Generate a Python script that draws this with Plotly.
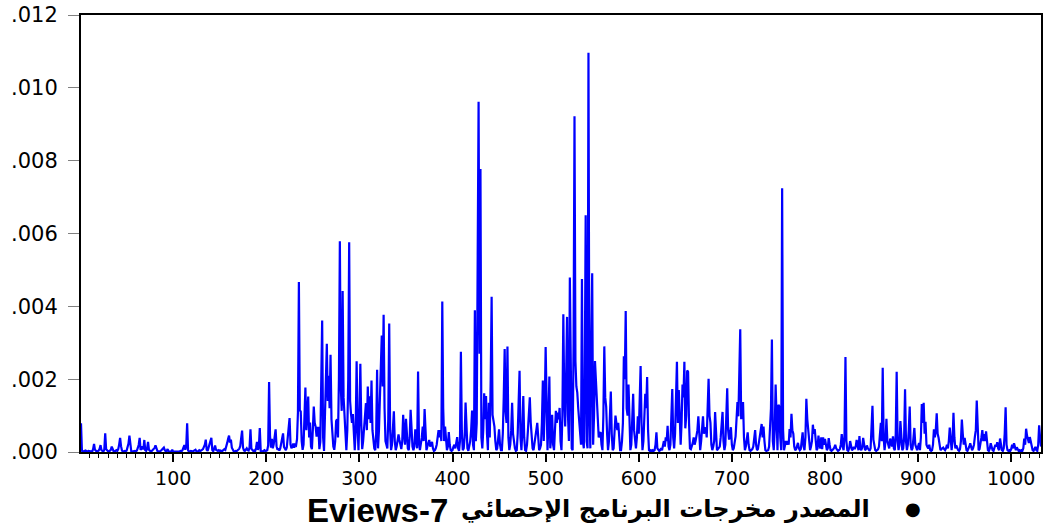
import plotly.graph_objects as go

# Series values, in units of 1e-4 (observation 1 .. 1032)
series_e4 = [
    7.9, 0.3, 0.1, 0.2, 0.5, 0.4, 0.2, 0.1, 0.3, 0.2,
    0.1, 0.2, 0.1, 0.8, 2.2, 0.6, 0.3, 0.1, 0.2, 0.4,
    0.9, 1.9, 0.5, 0.2, 0.1, 0.6, 5.1, 0.8, 0.3, 0.2,
    0.1, 0.3, 0.6, 1.5, 0.4, 0.2, 0.1, 0.2, 0.5, 0.3,
    0.8, 2.1, 3.9, 1.6, 0.4, 0.2, 0.1, 0.3, 0.2, 0.4,
    1.2, 2.3, 4.5, 0.9, 0.2, 0.1, 0.2, 0.1, 0.3, 0.2,
    0.4, 1.1, 2.0, 3.9, 0.6, 0.9, 1.5, 0.7, 3.3, 0.5,
    0.3, 1.0, 2.8, 0.6, 0.2, 0.1, 0.3, 0.5, 0.9, 1.1,
    1.8, 0.7, 0.3, 0.2, 0.1, 0.2, 0.4, 0.6, 0.8, 1.2,
    0.5, 0.2, 0.3, 0.8, 0.2, 0.1, 0.1, 0.2, 0.6, 0.1,
    0.1, 0.05, 0.1, 0.05, 0.1, 0.1, 0.2, 0.3, 0.2, 0.5,
    1.1, 1.9, 0.6, 1.5, 7.9, 0.4, 0.2, 0.1, 0.3, 0.2,
    0.1, 0.3, 0.5, 0.6, 0.2, 0.1, 0.2, 0.5, 0.3, 0.4,
    0.6, 0.8, 1.4, 2.0, 3.4, 0.6, 0.3, 1.2, 2.4, 3.0,
    3.9, 0.5, 0.2, 0.9, 1.8, 0.6, 0.4, 0.3, 0.5, 0.3,
    0.4, 0.2, 0.3, 0.5, 0.8, 0.6, 1.3, 2.5, 3.6, 4.5,
    2.6, 3.4, 1.2, 0.4, 0.2, 0.1, 0.3, 0.2, 0.5, 0.9,
    0.9, 1.6, 3.2, 5.9, 1.2, 0.4, 0.3, 0.8, 1.0, 0.5,
    0.4, 1.2, 6.2, 0.9, 0.5, 0.3, 0.4, 0.2, 1.1, 2.8,
    0.6, 1.4, 6.6, 0.3, 0.2, 0.1, 0.3, 0.5, 0.2, 0.4,
    0.5, 1.8, 19.2, 4.5, 1.2, 3.6, 1.0, 2.2, 4.4, 6.2,
    1.6, 0.6, 1.0, 0.4, 1.0, 2.6, 3.5, 5.1, 1.4, 0.8,
    0.5, 1.2, 4.5, 7.8, 9.3, 2.1, 1.0, 1.5, 2.3, 1.2,
    2.0, 1.8, 3.5, 11.0, 46.7, 11.5, 11.1, 3.0, 0.6, 2.0,
    8.5, 17.7, 6.0, 9.4, 15.2, 4.0, 8.1, 1.5, 0.8, 6.2,
    12.5, 8.0, 6.9, 4.2, 6.6, 6.6, 0.8, 2.8, 18.0, 36.1,
    4.0, 0.3, 10.0, 18.0, 29.7, 14.0, 20.9, 12.0, 26.7, 9.0,
    5.1, 1.5, 0.6, 3.0, 8.5, 9.0, 4.0, 20.0, 57.9, 18.0,
    11.3, 44.2, 15.0, 10.7, 4.0, 0.5, 6.0, 20.0, 57.6, 14.0,
    10.4, 8.0, 10.4, 3.0, 0.5, 6.0, 24.9, 7.0, 0.5, 10.0,
    24.2, 8.0, 0.8, 3.0, 7.0, 9.0, 13.4, 6.0, 18.0, 9.0,
    15.3, 8.0, 19.6, 6.0, 2.0, 1.0, 0.5, 5.0, 22.6, 1.0,
    6.0, 14.0, 20.0, 32.0, 18.0, 37.7, 12.0, 3.0, 2.0, 1.0,
    9.0, 35.3, 6.0, 0.5, 2.0, 6.0, 11.2, 3.0, 0.5, 1.5,
    3.0, 4.8, 3.3, 1.5, 0.8, 3.0, 10.2, 5.0, 2.0, 9.1,
    4.0, 1.0, 0.5, 4.0, 11.6, 5.0, 1.5, 0.5, 1.5, 6.2,
    4.0, 1.0, 22.1, 3.0, 0.5, 2.0, 4.0, 7.0, 3.0, 11.8,
    4.0, 0.5, 1.5, 2.5, 3.3, 1.5, 2.0, 2.8, 1.0, 0.3,
    0.5, 1.0, 2.0, 4.5, 6.0, 4.0, 6.0, 3.0, 41.3, 12.0,
    3.0, 7.0, 2.0, 0.5, 1.5, 5.5, 2.0, 0.5, 0.3, 0.5,
    1.5, 2.0, 1.0, 2.5, 4.1, 1.0, 0.3, 3.0, 27.5, 6.0,
    0.5, 1.0, 4.0, 13.6, 5.0, 1.0, 0.3, 1.5, 3.0, 6.0,
    11.4, 2.0, 0.5, 38.9, 3.0, 8.0, 45.0, 96.2, 27.0, 77.7,
    4.0, 1.0, 6.0, 16.1, 9.0, 15.4, 5.0, 0.5, 13.5, 4.0,
    20.0, 42.6, 10.2, 8.0, 7.0, 3.0, 0.5, 1.0, 3.0, 6.2,
    2.0, 0.5, 0.5, 5.0, 15.0, 28.3, 11.0, 8.0, 29.0, 4.0,
    0.5, 2.0, 6.0, 13.5, 5.0, 2.5, 1.0, 0.3, 0.5, 5.0,
    14.0, 22.3, 4.0, 0.5, 6.0, 15.4, 4.0, 0.5, 0.3, 2.0,
    6.0, 11.0, 15.0, 8.0, 4.5, 1.0, 0.5, 2.0, 4.0, 6.0,
    8.0, 2.0, 0.5, 1.0, 2.0, 8.0, 19.6, 3.0, 12.0, 28.8,
    6.0, 0.5, 8.0, 20.7, 1.0, 4.0, 10.2, 2.0, 0.5, 5.0,
    11.3, 8.0, 10.8, 9.0, 12.1, 3.0, 0.5, 10.0, 37.8, 15.0,
    7.0, 20.0, 37.1, 10.0, 3.0, 47.9, 12.0, 1.0, 0.5, 30.0,
    92.2, 25.0, 18.0, 16.3, 12.0, 8.0, 5.0, 2.0, 47.5, 3.0,
    1.0, 20.0, 65.0, 3.0, 1.0, 109.6, 12.0, 1.0, 30.0, 49.1,
    2.0, 10.0, 25.0, 20.0, 15.0, 6.0, 4.0, 5.0, 5.5, 2.0,
    0.5, 10.0, 29.0, 15.0, 12.5, 5.0, 0.5, 3.0, 8.0, 16.6,
    5.0, 0.5, 1.0, 5.0, 10.0, 8.0, 6.0, 8.0, 3.0, 0.5,
    0.5, 3.0, 8.0, 26.3, 20.0, 38.7, 12.0, 10.0, 18.5, 5.0,
    0.5, 2.0, 8.0, 16.0, 6.0, 2.0, 1.0, 4.0, 9.8, 5.0,
    12.0, 23.6, 8.0, 0.5, 3.0, 8.0, 16.0, 12.0, 20.6, 6.0,
    0.5, 0.3, 0.5, 0.3, 0.5, 0.3, 0.5, 2.0, 5.4, 1.0,
    0.5, 0.3, 0.5, 1.0, 0.5, 1.5, 3.0, 1.5, 4.0, 3.0,
    7.2, 1.5, 0.5, 2.0, 8.0, 17.3, 4.0, 1.0, 5.0, 15.0,
    24.8, 8.0, 17.0, 10.0, 2.0, 8.0, 18.5, 15.0, 24.8, 6.5,
    10.0, 22.4, 22.0, 8.0, 1.0, 0.8, 1.5, 2.5, 4.0, 2.0,
    3.0, 4.3, 6.0, 9.8, 3.0, 0.5, 3.0, 7.0, 9.8, 5.0,
    6.5, 6.8, 4.0, 10.0, 20.1, 10.0, 8.0, 2.0, 0.5, 1.5,
    3.0, 11.0, 4.0, 0.5, 0.8, 1.2, 1.5, 4.0, 8.0, 11.0,
    3.0, 0.5, 2.0, 8.0, 17.5, 6.0, 3.4, 5.0, 6.8, 2.0,
    0.5, 1.0, 2.5, 4.3, 9.0, 13.7, 9.8, 20.0, 33.7, 9.0,
    11.0, 13.7, 4.0, 0.5, 1.5, 3.0, 5.4, 2.0, 0.5, 0.3,
    0.5, 0.8, 1.5, 4.0, 6.0, 2.0, 0.5, 0.8, 2.5, 4.0,
    6.0, 7.7, 4.0, 7.0, 3.0, 0.5, 0.3, 0.5, 0.5, 1.5,
    5.4, 12.0, 30.9, 3.0, 0.5, 6.0, 18.5, 5.0, 0.5, 13.0,
    12.5, 4.0, 0.5, 72.4, 6.0, 0.5, 1.5, 3.0, 2.0, 3.0,
    2.0, 6.3, 4.0, 10.5, 6.0, 5.0, 1.5, 0.5, 0.8, 1.5,
    2.5, 1.0, 0.5, 0.8, 2.5, 5.4, 1.5, 0.5, 4.0, 14.6,
    9.0, 6.3, 2.0, 0.5, 1.5, 3.0, 7.5, 5.0, 6.3, 1.5,
    0.5, 1.0, 4.5, 2.0, 1.0, 4.0, 0.8, 4.0, 2.0, 3.6,
    2.5, 0.5, 1.0, 3.8, 2.0, 0.5, 0.3, 0.5, 0.8, 1.2,
    2.0, 1.0, 0.5, 0.3, 0.5, 0.8, 2.0, 4.9, 1.5, 0.5,
    5.0, 26.1, 3.0, 0.5, 0.3, 1.0, 3.0, 1.5, 0.5, 0.8,
    1.4, 0.8, 1.5, 3.3, 1.0, 0.5, 4.4, 1.0, 0.5, 1.2,
    3.9, 1.5, 0.5, 0.8, 1.8, 1.0, 0.5, 0.3, 1.0, 6.0,
    12.7, 3.4, 2.0, 0.5, 0.3, 0.5, 0.7, 1.5, 3.9, 8.0,
    3.0, 23.1, 4.0, 0.5, 3.0, 9.1, 3.0, 1.4, 1.0, 3.7,
    2.0, 1.5, 4.3, 1.0, 0.5, 5.0, 22.0, 3.0, 0.5, 2.0,
    8.5, 2.0, 0.5, 1.0, 4.0, 17.2, 3.0, 0.5, 2.0, 6.0,
    12.5, 2.0, 0.5, 1.0, 3.0, 6.6, 2.0, 1.0, 0.5, 1.5,
    2.5, 0.5, 4.0, 13.2, 8.0, 13.5, 5.0, 8.3, 2.0, 1.4,
    1.0, 2.0, 0.5, 0.3, 0.5, 2.0, 6.2, 4.0, 6.0, 10.6,
    5.0, 3.9, 1.5, 0.5, 0.8, 1.0, 1.2, 0.8, 0.5, 1.0,
    2.0, 1.0, 3.0, 6.7, 2.0, 0.5, 3.0, 10.8, 4.0, 1.0,
    1.8, 1.0, 0.5, 0.3, 0.8, 3.0, 8.9, 5.0, 2.0, 3.9,
    2.0, 0.5, 0.3, 0.8, 1.5, 2.4, 1.0, 0.5, 1.0, 2.0,
    4.2, 6.0, 14.1, 3.0, 0.5, 0.8, 2.0, 4.0, 6.0, 3.0,
    4.9, 3.0, 5.7, 2.0, 0.5, 0.3, 1.0, 2.4, 1.0, 0.5,
    0.3, 1.0, 2.0, 1.5, 2.7, 1.0, 0.5, 3.7, 1.5, 0.5,
    0.3, 1.0, 5.0, 12.3, 2.0, 0.5, 0.3, 0.5, 0.3, 0.8,
    2.0, 1.0, 2.4, 1.0, 0.5, 1.3, 0.5, 0.3, 0.5, 0.3,
    0.5, 0.3, 1.0, 3.7, 2.0, 6.4, 4.5, 3.7, 2.5, 4.1,
    3.0, 1.0, 0.5, 0.3, 0.8, 1.4, 0.5, 0.3, 2.0, 7.3,
    4.0, 1.5,
]
observations = list(range(1, len(series_e4) + 1))
values = [v * 1e-4 for v in series_e4]

y_tick_values = [0.000, 0.002, 0.004, 0.006, 0.008, 0.010, 0.012]
y_tick_labels = [".000", ".002", ".004", ".006", ".008", ".010", ".012"]
x_tick_values = [100, 200, 300, 400, 500, 600, 700, 800, 900, 1000]
x_tick_labels = [str(v) for v in x_tick_values]

caption_latin = "Eviews-7"
caption_arabic = "المصدر مخرجات البرنامج الإحصائي"
bullet_text = "●"

W, H = 1046, 528
ML, MR, MT, MB = 81, 3, 15, 76
PW, PH = W - ML - MR, H - MT - MB


def px_to_paper_x(px):
    return (px - ML) / PW


def px_to_paper_y(py):
    return (H - MB - py) / PH


FONT = "DejaVu Sans, Liberation Sans, Arial, sans-serif"
LATIN_FONT = "Liberation Sans, Arial, sans-serif"

fig = go.Figure()
fig.add_trace(go.Scatter(
    x=observations, y=values, mode="lines",
    line=dict(color="#0000FF", width=2.2),
    hoverinfo="skip", showlegend=False,
))

fig.update_layout(
    width=W, height=H,
    margin=dict(l=ML, r=MR, t=MT, b=MB, pad=0),
    paper_bgcolor="white", plot_bgcolor="white",
    font=dict(family=FONT, size=20, color="black"),
    showlegend=False,
)

fig.update_xaxes(
    range=[1, len(series_e4)],
    tickmode="array", tickvals=x_tick_values, ticktext=x_tick_labels,
    ticks="outside", ticklen=8, tickwidth=1.5, tickcolor="black",
    minor=dict(dtick=10, tick0=0, ticks="outside", ticklen=4,
               tickwidth=1.2, tickcolor="black", showgrid=False),
    showgrid=False, zeroline=False,
    showline=True, linecolor="black", linewidth=2, mirror=True,
    tickfont=dict(family=FONT, size=19, color="black"),
    ticklabelstandoff=0,
)
fig.update_yaxes(
    range=[0, 0.012],
    tickmode="array", tickvals=y_tick_values, ticktext=y_tick_labels,
    ticks="outside", ticklen=11, tickwidth=1.2, tickcolor="#808080",
    showgrid=False, zeroline=False,
    showline=True, linecolor="black", linewidth=2, mirror=True,
    tickfont=dict(family=FONT, size=21, color="black"),
    ticklabelstandoff=6,
)

fig.add_annotation(
    text=caption_latin, xref="paper", yref="paper",
    x=px_to_paper_x(305), y=px_to_paper_y(510),
    xanchor="left", yanchor="middle", showarrow=False,
    font=dict(family=LATIN_FONT, size=33, color="black", weight="bold"),
)
fig.add_annotation(
    text=caption_arabic, xref="paper", yref="paper",
    x=px_to_paper_x(874), y=px_to_paper_y(509),
    xanchor="right", yanchor="middle", showarrow=False,
    font=dict(family=FONT, size=24, color="black", weight="bold"),
)
fig.add_annotation(
    text=bullet_text, xref="paper", yref="paper",
    x=px_to_paper_x(915), y=px_to_paper_y(509),
    xanchor="center", yanchor="middle", showarrow=False,
    font=dict(family=FONT, size=18, color="black"),
)

fig.write_html(
    "out.html",
    config={"displayModeBar": False},
    post_script="document.body.style.margin='0px';document.body.style.overflow='hidden';",
)
